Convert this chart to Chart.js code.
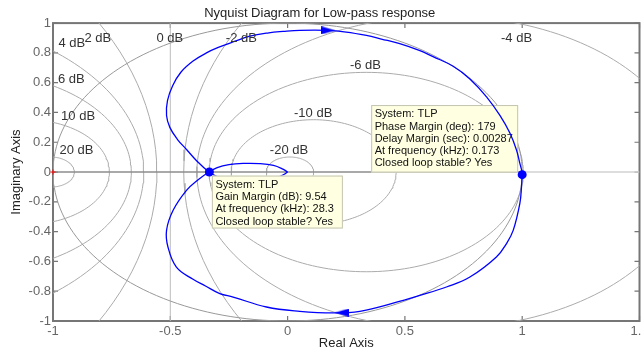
<!DOCTYPE html>
<html>
<head>
<meta charset="utf-8">
<script src="https://cdn.jsdelivr.net/npm/chart.js@4.4.1/dist/chart.umd.min.js"></script>
<style>
  html, body { margin: 0; padding: 0; background: #fff; }
  canvas { display: block; }
</style>
</head>
<body>
<canvas id="nyq" width="641" height="351"></canvas>
<script>
const FONT = '"Liberation Sans", Arial, Helvetica, sans-serif';

// closed-loop magnitude contours, dB
const mCircleDb = [20, 10, 6, 4, 2, 0, -2, -4, -6, -10, -20];
const mCircleLabels = ['20 dB', '10 dB', '6 dB', '4 dB', '2 dB', '0 dB', '-2 dB', '-4 dB', '-6 dB', '-10 dB', '-20 dB'];

// Nyquist curve of TLP, w = 0 .. +inf (lower loop, then the small lobe into the origin)
const posRe = [1, 0.997, 0.99, 0.962, 0.935, 0.89, 0.777, 0.68, 0.564, 0.45, 0.308, 0.194, 0.052, -0.09, -0.232, -0.289, -0.35, -0.403, -0.474, -0.51, -0.516, -0.488, -0.431, -0.38, -0.335, -0.30, -0.25, -0.19, -0.12, -0.06, -0.02, 0];
const posIm = [0, -0.1, -0.21, -0.39, -0.475, -0.57, -0.705, -0.77, -0.828, -0.88, -0.935, -0.946, -0.935, -0.906, -0.839, -0.816, -0.765, -0.72, -0.638, -0.503, -0.391, -0.257, -0.123, -0.05, 0, 0.03, 0.05, 0.058, 0.057, 0.045, 0.02, 0];

// w = -inf .. 0 (origin, small lobe, upper loop back to 1)
const negRe = [0, -0.02, -0.06, -0.12, -0.19, -0.25, -0.30, -0.335, -0.389, -0.43, -0.47, -0.502, -0.516, -0.512, -0.49, -0.455, -0.403, -0.346, -0.29, -0.23, -0.161, -0.08, -0.019, 0.052, 0.166, 0.25, 0.336, 0.40, 0.478, 0.564, 0.62, 0.706, 0.777, 0.848, 0.905, 0.948, 0.976, 0.99, 1];
const negIm = [0, -0.02, -0.045, -0.057, -0.058, -0.05, -0.03, 0, 0.078, 0.15, 0.22, 0.30, 0.38, 0.48, 0.58, 0.67, 0.745, 0.80, 0.84, 0.875, 0.912, 0.935, 0.944, 0.951, 0.951, 0.94, 0.917, 0.893, 0.862, 0.815, 0.775, 0.71, 0.625, 0.505, 0.38, 0.26, 0.146, 0.058, 0];

// direction arrows on the curve
const arrowRe = [0.174, 0.23];
const arrowIm = [0.951, -0.944];
const arrowRot = [90, 270];

// stability margins
const gainMarginDb = 9.54;
const gmFreqKHz = 28.3;
const phaseMarginDeg = 179;
const delayMarginSec = 0.00287;
const pmFreqKHz = 0.173;

// where the contour labels sit (data units)
const labelRe = [-0.900, -0.893, -0.922, -0.920, -0.809, -0.502, -0.197, 0.976, 0.332, 0.109, 0.006];
const labelIm = [0.146, 0.374, 0.622, 0.862, 0.899, 0.899, 0.895, 0.899, 0.716, 0.392, 0.146];

const zip = (re, im) => re.map((v, i) => ({x: v, y: im[i]}));

function mCircle(db) {
  if (db === 0) return [{x: -0.5, y: -1.5}, {x: -0.5, y: 1.5}];
  const m2 = Math.pow(10, db / 10);
  const c = -m2 / (m2 - 1);
  const r = Math.abs(Math.sqrt(m2) / (m2 - 1));
  const pts = [];
  for (let a = 0; a <= 360; a += 2) {
    const t = a * Math.PI / 180;
    pts.push({x: c + r * Math.cos(t), y: r * Math.sin(t)});
  }
  return pts;
}

function unitCircle() {
  const pts = [];
  for (let a = 0; a <= 360; a += 2) {
    const t = a * Math.PI / 180;
    pts.push({x: Math.cos(t), y: Math.sin(t)});
  }
  return pts;
}

// margin points: -1/GM on the real axis, and the unit-circle crossing
const gmPoint = {x: -Math.pow(10, -gainMarginDb / 20), y: 0};
const pmAngle = (phaseMarginDeg - 180) * Math.PI / 180;
const pmPoint = {x: Math.cos(pmAngle), y: Math.sin(pmAngle)};

// narrow arrow head, tip pointing up before rotation
const arrowHead = document.createElement('canvas');
arrowHead.width = 8;
arrowHead.height = 14;
(function () {
  const g = arrowHead.getContext('2d');
  g.fillStyle = '#0000ff';
  g.beginPath();
  g.moveTo(4, 0);
  g.lineTo(8, 14);
  g.lineTo(0, 14);
  g.closePath();
  g.fill();
})();

const grey = {showLine: true, pointRadius: 0, borderWidth: 1, tension: 0, fill: false};

const datasets = [];
mCircleDb.forEach(db => datasets.push(Object.assign({}, grey, {
  data: mCircle(db),
  borderColor: db === 0 ? '#bcbcbc' : '#ababab',
  order: 6
})));
datasets.push(Object.assign({}, grey, {data: unitCircle(), borderColor: '#999999', order: 5}));
datasets.push(Object.assign({}, grey, {data: [{x: -1, y: 0}, {x: 1, y: 0}], borderColor: '#8c8c8c', borderWidth: 1.6, order: 4}));
datasets.push(Object.assign({}, grey, {data: [{x: 1, y: 0}, {x: 1.5, y: 0}], borderColor: '#d2d2d2', borderWidth: 1.6, order: 4}));
datasets.push({data: zip(posRe, posIm), showLine: true, pointRadius: 0, borderColor: '#0000ff', borderWidth: 1.3, tension: 0.4, order: 3});
datasets.push({data: zip(negRe, negIm), showLine: true, pointRadius: 0, borderColor: '#0000ff', borderWidth: 1.3, tension: 0.4, order: 3});
datasets.push({data: zip(arrowRe, arrowIm), showLine: false, pointStyle: arrowHead, pointRotation: arrowRot, pointRadius: 7, order: 1});
datasets.push({data: [gmPoint, pmPoint], showLine: false, pointStyle: 'circle', pointRadius: 4.5, backgroundColor: '#0000ff', borderColor: '#0000ff', borderWidth: 0, order: 1});
datasets.push({data: [{x: -1, y: 0}], showLine: false, pointStyle: 'cross', pointRadius: 2.5, borderColor: '#ff0000', borderWidth: 1, clip: false, order: 0});

function drawTip(ctx, left, top, w, h, lines) {
  ctx.save();
  ctx.fillStyle = '#ffffe1';
  ctx.fillRect(left, top, w, h);
  ctx.strokeStyle = '#c4c4b2';
  ctx.lineWidth = 1;
  ctx.strokeRect(left + 0.5, top + 0.5, w - 1, h - 1);
  ctx.fillStyle = '#111';
  ctx.font = '11px ' + FONT;
  ctx.textAlign = 'left';
  ctx.textBaseline = 'middle';
  lines.forEach((s, i) => ctx.fillText(s, left + 3.5, top + 9.4 + i * 12.2));
  ctx.restore();
}

// tick labels: 1, 0.8, -0.5 ... no trailing zeros
const tickText = v => String(Math.round(v * 10) / 10);

let pmTipDrawn = false;

const frame = {
  id: 'frame',
  beforeDatasetsDraw(chart) {
    const {ctx, chartArea: a, scales: {x, y}} = chart;
    pmTipDrawn = false;
    ctx.save();
    ctx.strokeStyle = '#767676';
    ctx.lineWidth = 1.2;
    ctx.beginPath();
    x.ticks.forEach(t => {
      const px = x.getPixelForValue(t.value);
      ctx.moveTo(px, a.bottom); ctx.lineTo(px, a.bottom - 5);
      ctx.moveTo(px, a.top); ctx.lineTo(px, a.top + 5);
    });
    y.ticks.forEach(t => {
      const py = y.getPixelForValue(t.value);
      ctx.moveTo(a.left, py); ctx.lineTo(a.left + 5, py);
      ctx.moveTo(a.right, py); ctx.lineTo(a.right - 5, py);
    });
    ctx.stroke();
    ctx.lineWidth = 2;
    ctx.strokeRect(a.left, a.top, a.right - a.left, a.bottom - a.top);
    ctx.restore();
  },
  // phase-margin tip goes over the grid but under the Nyquist curve
  beforeDatasetDraw(chart, args) {
    if (pmTipDrawn || args.meta.order > 3) return;
    pmTipDrawn = true;
    const {ctx, scales: {x, y}} = chart;
    const pmX = x.getPixelForValue(pmPoint.x), pmY = y.getPixelForValue(0);
    drawTip(ctx, pmX - 151, pmY - 67, 147, 67.5, [
      'System: TLP',
      'Phase Margin (deg): ' + phaseMarginDeg,
      'Delay Margin (sec): ' + delayMarginSec,
      'At frequency (kHz): ' + pmFreqKHz,
      'Closed loop stable? Yes'
    ]);
  },
  afterDatasetsDraw(chart) {
    const {ctx, scales: {x, y}} = chart;
    ctx.save();
    ctx.font = '13px ' + FONT;
    ctx.fillStyle = '#333';
    ctx.textAlign = 'center';
    ctx.textBaseline = 'middle';
    mCircleLabels.forEach((t, i) => ctx.fillText(t, x.getPixelForValue(labelRe[i]), y.getPixelForValue(labelIm[i])));
    ctx.restore();

    const gmX = x.getPixelForValue(gmPoint.x), gmY = y.getPixelForValue(0);
    drawTip(ctx, gmX + 2.5, gmY + 3.5, 131, 53, [
      'System: TLP',
      'Gain Margin (dB): ' + gainMarginDb,
      'At frequency (kHz): ' + gmFreqKHz,
      'Closed loop stable? Yes'
    ]);
  }
};

Chart.defaults.font.family = FONT;

new Chart(document.getElementById('nyq'), {
  type: 'scatter',
  data: {datasets: datasets},
  options: {
    responsive: false,
    devicePixelRatio: 1,
    animation: false,
    events: [],
    layout: {autoPadding: false, padding: {left: 0, right: 1.5, top: 0, bottom: 0}},
    plugins: {
      legend: {display: false},
      tooltip: {enabled: false},
      title: {
        display: true,
        text: 'Nyquist Diagram for Low-pass response',
        color: '#222',
        font: {size: 13, weight: 'normal', family: FONT},
        padding: {top: 6, bottom: 1.5}
      }
    },
    scales: {
      x: {
        type: 'linear', min: -1, max: 1.5,
        ticks: {stepSize: 0.5, color: '#666', font: {size: 13}, padding: 3, maxRotation: 0, autoSkip: false, callback: tickText},
        grid: {display: false, drawTicks: false},
        border: {display: false},
        title: {display: true, text: 'Real Axis', color: '#222', font: {size: 13}, padding: {top: 0, bottom: 0}},
        afterFit(s) { s.height = 30; s.paddingLeft = 0; s.paddingRight = 0; }
      },
      y: {
        type: 'linear', min: -1, max: 1,
        ticks: {stepSize: 0.2, color: '#666', font: {size: 13}, padding: 2, autoSkip: false, callback: tickText},
        grid: {display: false, drawTicks: false},
        border: {display: false},
        title: {display: true, text: 'Imaginary Axis', color: '#222', font: {size: 13}, padding: {top: 9, bottom: 0}},
        afterFit(s) { s.width = 53; s.paddingTop = 0; s.paddingBottom = 0; }
      }
    }
  },
  plugins: [frame]
});
</script>
</body>
</html>
